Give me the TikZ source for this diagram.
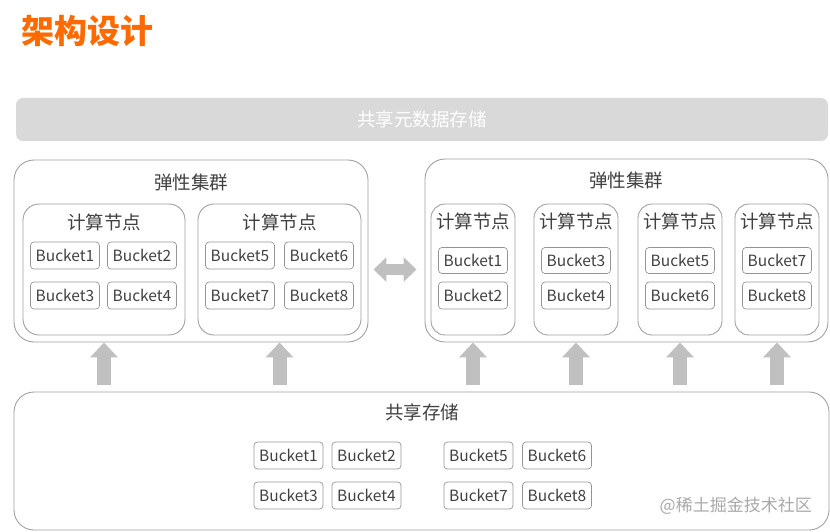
\documentclass[tikz,border=0pt]{standalone}
\usepackage{fontspec}
\setmainfont{Noto Sans CJK SC}
\usetikzlibrary{arrows.meta,calc}
\definecolor{ttl}{HTML}{FF6A00}
\definecolor{barfill}{HTML}{D9D9D9}
\definecolor{edge}{HTML}{A0A0A0}
\definecolor{bedge}{HTML}{959595}
\definecolor{txt}{HTML}{404040}
\definecolor{arr}{HTML}{C0C0C0}
\definecolor{wm}{HTML}{A8A8A8}
\begin{document}
\begin{tikzpicture}[x=1pt,y=-1pt,
  frame/.style={draw=edge,line width=0.9pt,rounded corners=#1,inner sep=0pt},
  frame/.default=18pt,
  bkt/.style={draw=bedge,line width=0.7pt,rounded corners=3.5pt,inner sep=0pt,
    minimum width=69pt,minimum height=27pt,text=txt,font=\fontsize{15.5}{16}\selectfont},
  lbl/.style={inner sep=0pt,text=txt,font=\fontsize{18.5}{20}\selectfont},
  uparr/.style={draw=arr,line width=14pt,-{Triangle[width=27pt,length=15pt]},shorten <=7pt},
  duarr/.style={draw=arr,line width=11pt,{Triangle[width=24pt,length=13pt]}-{Triangle[width=24pt,length=13pt]},shorten <=5pt,shorten >=8pt}
]
\useasboundingbox (0,0) rectangle (830,532);

% title
\node[anchor=west,inner sep=0pt,text=ttl,font=\fontsize{33}{36}\selectfont\bfseries] (title) at (21,31) {架构设计};

% shared metadata bar
\node[fill=barfill,rounded corners=7pt,inner sep=0pt,minimum width=812pt,minimum height=43pt,
  text=white,font=\fontsize{18.5}{20}\selectfont] (meta) at (422,119.5) {共享元数据存储};

% left cluster
\node[frame=20pt,minimum width=354pt,minimum height=182pt] (lc) at (191,251) {};
\node[lbl] (lct) at (191,182) {弹性集群};
\node[frame=16pt,minimum width=162pt,minimum height=131pt] (ln1) at (104,269.5) {};
\node[frame=16pt,minimum width=163pt,minimum height=131pt] (ln2) at (279.5,269.5) {};
\node[lbl] (ln1t) at (104,222) {计算节点};
\node[lbl] (ln2t) at (279.5,222) {计算节点};
\node[bkt] (lb1) at (65,255.5) {Bucket1};
\node[bkt] (lb2) at (142,255.5) {Bucket2};
\node[bkt] (lb3) at (65,295.5) {Bucket3};
\node[bkt] (lb4) at (142,295.5) {Bucket4};
\node[bkt] (lb5) at (240,255.5) {Bucket5};
\node[bkt] (lb6) at (319,255.5) {Bucket6};
\node[bkt] (lb7) at (240,295.5) {Bucket7};
\node[bkt] (lb8) at (319,295.5) {Bucket8};

% right cluster
\node[frame=20pt,minimum width=403pt,minimum height=183pt] (rc) at (626.5,250.5) {};
\node[lbl] (rct) at (626,180) {弹性集群};
\foreach \i/\x/\a/\b in {1/473/1/2,2/576/3/4,3/680/5/6,4/777/7/8}{
  \node[frame=14pt,minimum width=84pt,minimum height=131pt] (rn\i) at (\x,269.5) {};
  \node[lbl] (rn\i t) at (\x,221) {计算节点};
  \node[bkt,minimum height=26pt] (rb\a) at (\x,260.5) {Bucket\a};
  \node[bkt] (rb\b) at (\x,295.5) {Bucket\b};
}

% shared storage
\node[frame=20pt,minimum width=815pt,minimum height=138pt] (st) at (421.5,461) {};
\node[lbl] (stt) at (422,412) {共享存储};
\node[bkt] (sb1) at (288.5,455.5) {Bucket1};
\node[bkt] (sb2) at (366.5,455.5) {Bucket2};
\node[bkt] (sb3) at (288.5,495.5) {Bucket3};
\node[bkt] (sb4) at (366.5,495.5) {Bucket4};
\node[bkt] (sb5) at (478.5,455.5) {Bucket5};
\node[bkt] (sb6) at (557,455.5) {Bucket6};
\node[bkt] (sb7) at (478.5,495.5) {Bucket7};
\node[bkt] (sb8) at (557,495.5) {Bucket8};
\node[anchor=east,inner sep=0pt,text=wm,font=\fontsize{17}{18}\selectfont] (wmk) at (812,506) {@稀土掘金技术社区};

% arrows
\draw[uparr] (st.north -| ln1.south) -- (lc.south -| ln1.south);
\draw[uparr] (st.north -| ln2.south) -- (lc.south -| ln2.south);
\foreach \i in {1,...,4}{
  \draw[uparr] (st.north -| rn\i.south) -- (rc.south -| rn\i.south);
}
\draw[duarr] (lc.east |- ln1.center) -- (rc.west |- ln1.center);
\end{tikzpicture}
\end{document}
